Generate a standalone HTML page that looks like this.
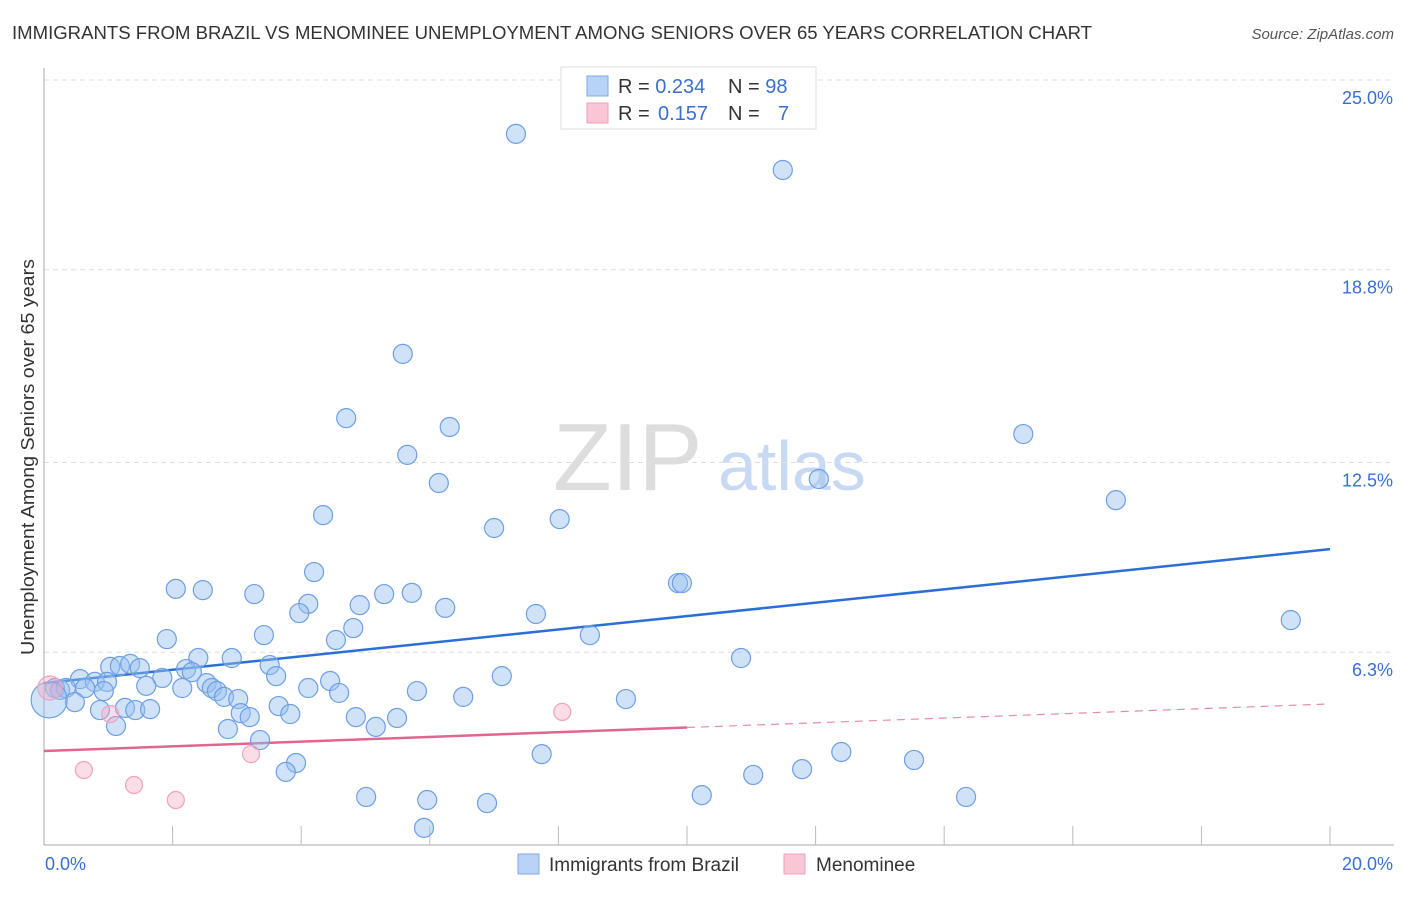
<!DOCTYPE html>
<html><head><meta charset="utf-8"><style>
body{margin:0;background:#fff;font-family:"Liberation Sans",sans-serif}
svg text{font-family:"Liberation Sans",sans-serif}
</style></head><body>
<svg id="chart" width="1406" height="892" xmlns="http://www.w3.org/2000/svg">
<text x="12" y="39" font-size="18" fill="#333" textLength="1080" lengthAdjust="spacingAndGlyphs">IMMIGRANTS FROM BRAZIL VS MENOMINEE UNEMPLOYMENT AMONG SENIORS OVER 65 YEARS CORRELATION CHART</text>
<text x="1394" y="39" font-size="15" fill="#555" font-style="italic" text-anchor="end">Source: ZipAtlas.com</text>
<g>
<text x="553" y="490" font-size="96" fill="#ddd" font-family="Liberation Serif" >ZIP</text>
<text x="718" y="490" font-size="70" fill="#c8daf3">atlas</text>
</g>
<g id="grid"></g>
<g id="axes"></g>
<g id="lines"></g>
<g id="pts"></g>
<text transform="translate(34,457) rotate(-90)" font-size="18" fill="#333" text-anchor="middle" textLength="396" lengthAdjust="spacingAndGlyphs">Unemployment Among Seniors over 65 years</text>
<g>
<rect x="561" y="67" width="255" height="62" fill="#fff" stroke="#ddd"/>
<rect x="587" y="76" width="21" height="20" fill="#b8d3f6" stroke="#7eaae6"/>
<rect x="587" y="103" width="21" height="20" fill="#f9c6d5" stroke="#f1a0b8"/>
<text x="618" y="93" font-size="20" fill="#333">R = <tspan fill="#3a6fd1">0.234</tspan>  <tspan x="728">N = </tspan><tspan fill="#3a6fd1">98</tspan></text>
<text x="618" y="120" font-size="20" fill="#333">R = <tspan fill="#3a6fd1" x="658">0.157</tspan><tspan x="728">N = </tspan><tspan fill="#3a6fd1" x="778">7</tspan></text>
</g>
<g>
<rect x="518" y="854" width="21" height="20" fill="#b8d3f6" stroke="#7eaae6"/>
<text x="549" y="871" font-size="19" fill="#333">Immigrants from Brazil</text>
<rect x="784" y="854" width="21" height="20" fill="#f9c6d5" stroke="#f1a0b8"/>
<text x="816" y="871" font-size="19" fill="#333">Menominee</text>
</g>
</svg>
<script>
const yTicks=[25.0,18.8,12.5,6.3];
const yTickLabels=["25.0%","18.8%","12.5%","6.3%"];
const xEndLabels=["0.0%","20.0%"];
const blueX=[7.34,11.49,5.58,4.70,6.31,5.65,6.14,15.23,12.05,16.67,4.34,7.00,8.02,4.20,2.05,2.47,3.27,5.29,5.72,4.11,4.91,6.24,3.97,7.65,9.86,9.92,19.39,1.91,3.42,4.81,4.54,8.49,2.40,2.92,1.03,1.18,1.34,1.49,2.21,2.30,3.51,3.61,10.84,7.12,1.84,0.56,0.79,0.98,4.45,1.59,2.15,2.53,2.61,2.69,4.11,4.59,5.80,6.52,9.05,2.80,3.02,0.17,0.25,0.34,0.64,0.93,0.48,0.08,0.87,1.26,1.42,1.65,3.65,3.83,3.06,3.20,4.85,5.49,2.86,1.12,5.16,3.36,7.74,12.40,13.53,3.92,3.76,11.03,11.79,5.01,5.96,6.89,10.23,14.34,5.91];
const blueY=[23.24,22.06,16.05,13.95,13.66,12.75,11.83,13.43,11.96,11.27,10.78,10.36,10.65,8.92,8.37,8.33,8.20,8.20,8.24,7.88,7.84,7.75,7.58,7.55,8.56,8.56,7.35,6.73,6.86,7.09,6.70,6.86,6.11,6.11,5.82,5.85,5.92,5.78,5.75,5.65,5.88,5.52,6.11,5.52,5.46,5.42,5.33,5.33,5.36,5.20,5.13,5.29,5.13,5.03,5.13,4.97,5.03,4.84,4.77,4.84,4.77,5.13,5.07,5.13,5.13,5.03,4.67,4.74,4.41,4.48,4.41,4.44,4.54,4.28,4.31,4.18,4.18,4.15,3.79,3.89,3.86,3.43,2.97,3.04,2.78,2.68,2.39,2.29,2.48,1.57,1.47,1.37,1.63,1.57,0.56];
const pinkX=[0.09,1.03,0.62,1.40,2.05,3.22,8.06];
const pinkY=[5.13,4.28,2.45,1.96,1.47,2.97,4.35];
const blueTrend=[5.29,9.67];
const pinkTrend=[3.07,4.61];
const NS='http://www.w3.org/2000/svg';
const X=v=>44+v*64.3, Y=v=>845-v*30.6;
function mk(p,t,a){const e=document.createElementNS(NS,t);for(const k in a)e.setAttribute(k,a[k]);document.getElementById(p).appendChild(e);return e;}
yTicks.forEach((t,i)=>{
 const l=mk('grid','line',{x1:44,x2:1394,y1:Y(t),y2:Y(t),stroke:'#ddd','stroke-dasharray':'5,4'});
 
 
 const tx=mk('grid','text',{x:1393,y:Y(t)+24,'font-size':18,fill:'#3a6fd1','text-anchor':'end'});
 tx.textContent=yTickLabels[i];
 
 
});
let a=mk('axes','line',{x1:44,x2:44,y1:68,y2:845,stroke:'#aaa'});


a=mk('axes','line',{x1:44,x2:1394,y1:845,y2:845,stroke:'#aaa'});


for(let i=1;i<=10;i++){const t=mk('axes','line',{x1:X(i*2),x2:X(i*2),y1:826,y2:845,stroke:'#bbb'});
 
 }
let t1=mk('axes','text',{x:45,y:870,'font-size':18,fill:'#3a6fd1'});t1.textContent=xEndLabels[0];


t1=mk('axes','text',{x:1393,y:870,'font-size':18,fill:'#3a6fd1','text-anchor':'end'});t1.textContent=xEndLabels[1];


blueX.forEach((x,i)=>{const c=mk('pts','circle',{cx:X(x),cy:Y(blueY[i]),r:i==67?18:9.5,fill:'rgba(150,190,240,0.45)',stroke:'#6d9fe3','stroke-width':1.2});
 
 });
pinkX.forEach((x,i)=>{const c=mk('pts','circle',{cx:X(x),cy:Y(pinkY[i]),r:i==0?12:8.5,fill:'rgba(245,170,195,0.4)',stroke:'#f0a3bb','stroke-width':1.2});
 
 });
let l=mk('lines','line',{x1:X(0),y1:Y(blueTrend[0]),x2:X(20),y2:Y(blueTrend[1]),stroke:'#2a6fd6','stroke-width':2.5});


const pm=(pinkTrend[0]+pinkTrend[1])/2;
l=mk('lines','line',{x1:X(0),y1:Y(pinkTrend[0]),x2:X(10),y2:Y(pm),stroke:'#e06690','stroke-width':2.5});


l=mk('lines','line',{x1:X(10),y1:Y(pm),x2:X(20),y2:Y(pinkTrend[1]),stroke:'#e88aa8','stroke-width':1.2,'stroke-dasharray':'8,6'});


</script>
</body></html>
